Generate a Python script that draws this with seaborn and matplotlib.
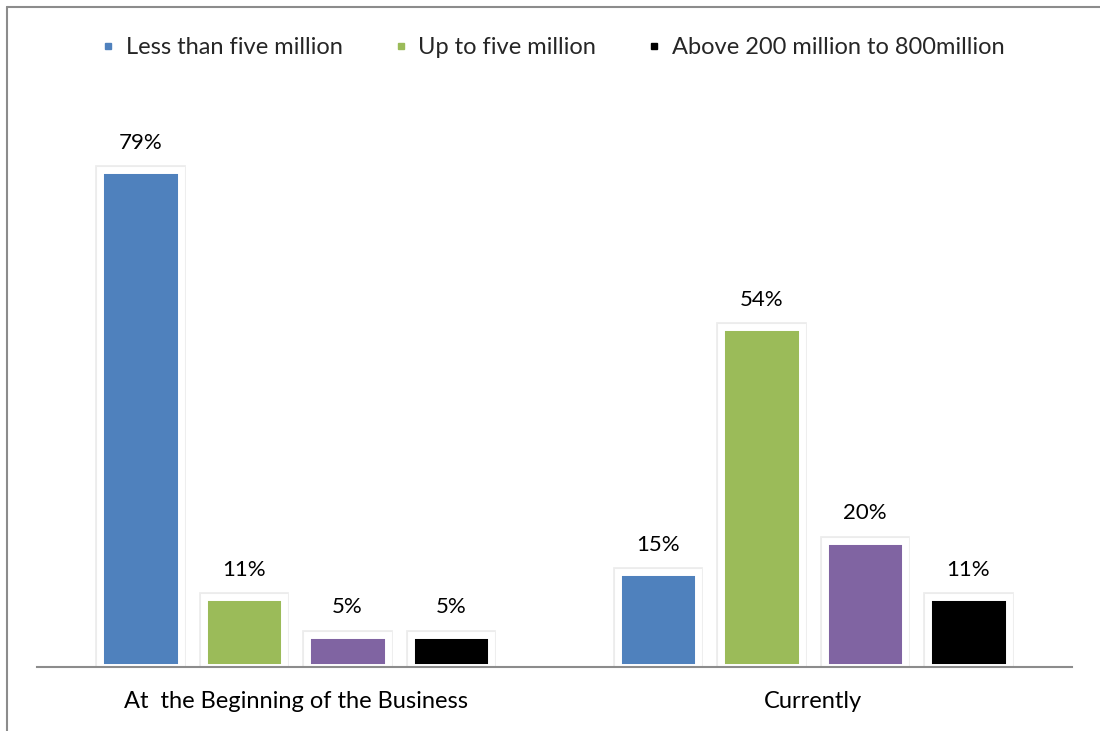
import matplotlib
matplotlib.use("Agg")
import matplotlib.pyplot as plt
import matplotlib.patheffects as pe
from matplotlib.lines import Line2D
import seaborn as sns
import pandas as pd

# Share of firms by capital size, at start-up and today
periods = ["At  the Beginning of the Business", "Currently"]
series = ["Less than five million", "Up to five million",
          "Unlabelled", "Above 200 million to 800million"]
beginning = [79, 11, 5, 5]
currently = [15, 54, 20, 11]
colors = ["#4F81BD", "#9BBB59", "#8064A2", "#000000"]
legend_series = [0, 1, 3]

rows = []
for p, vals in zip(periods, [beginning, currently]):
    for s, v in zip(series, vals):
        rows.append({"period": p, "series": s, "value": v})
df = pd.DataFrame(rows)

sns.set_theme(style="white")
plt.rcParams["font.family"] = ["Lato", "DejaVu Sans"]

fig = plt.figure(figsize=(11, 7.31), dpi=100)
ax = fig.add_axes([37 / 1100, 1 - 666.5 / 731, (1072 - 37) / 1100, (666.5 - 90) / 731])

sns.barplot(data=df, x="period", y="value", hue="series", hue_order=series,
            order=periods, palette=colors, saturation=1, width=0.8, gap=0.2175,
            linewidth=5, edgecolor="white", legend=False, ax=ax)

shadow = [pe.Stroke(linewidth=7, foreground="#ececec"), pe.Normal()]
for bar in ax.patches:
    bar.set_path_effects(shadow)

for cont in ax.containers:
    for bar in cont:
        h = bar.get_height()
        ax.annotate(f"{h:.0f}%", (bar.get_x() + bar.get_width() / 2, h),
                    xytext=(0, 20), textcoords="offset points",
                    ha="center", va="center", fontsize=16, color="black")

ax.set_xlim(-0.5, 1.5)
ax.set_ylim(0, 91.8)
ax.set_xlabel("")
ax.set_ylabel("")
ax.set_yticks([])
for side in ["top", "right", "left"]:
    ax.spines[side].set_visible(False)
ax.spines["bottom"].set_color("#8c8c8c")
ax.spines["bottom"].set_linewidth(1.5)
ax.spines["bottom"].set_zorder(5)
ax.tick_params(axis="x", length=0, pad=18, labelsize=17, labelcolor="black")

handles = [Line2D([], [], marker="s", linestyle="none", markersize=5,
                  markerfacecolor=colors[i], markeredgecolor=colors[i])
           for i in legend_series]
fig.legend(handles, [series[i] for i in legend_series], loc="center",
           bbox_to_anchor=(0.503, 1 - 48 / 731), ncol=3, frameon=False,
           fontsize=17, handlelength=0.5, handletextpad=0.5, columnspacing=2.2)

# chart frame along the top and left edges
fig.add_artist(Line2D([7 / 1100, 7 / 1100], [0, 1 - 7 / 731], color="#8c8c8c", lw=1.5))
fig.add_artist(Line2D([7 / 1100, 1], [1 - 7 / 731, 1 - 7 / 731], color="#8c8c8c", lw=1.5))

fig.savefig("out.png", dpi=100)
